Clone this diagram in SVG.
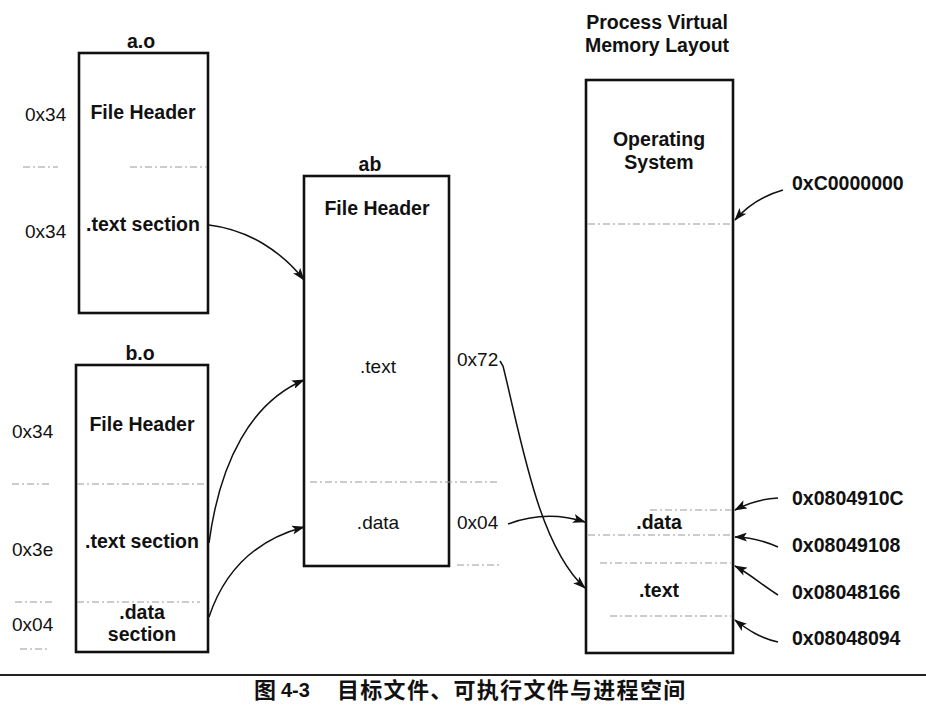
<svg xmlns="http://www.w3.org/2000/svg" width="926" height="719" viewBox="0 0 926 719">
<style>
.box{fill:#fff;stroke:#111;stroke-width:2.6}
.b{font-family:"Liberation Sans",Arial,sans-serif;font-weight:bold;font-size:19.5px;fill:#111}
.n{font-family:"Liberation Sans",Arial,sans-serif;font-size:19px;fill:#111}
.m{text-anchor:middle}
.d{stroke:#999;stroke-width:1;stroke-dasharray:7 3 2 3;fill:none}
.c{fill:none;stroke:#111;stroke-width:1.5}
.cap{font-family:"Noto Sans CJK SC","Noto Sans CJK JP",sans-serif;font-size:22px;font-weight:bold;fill:#111;letter-spacing:1.3px}
.capn{font-family:"Liberation Sans",Arial,sans-serif;font-size:20px;font-weight:bold;fill:#111}
</style>
<defs>
<marker id="ah" markerWidth="13" markerHeight="9" refX="12" refY="4.5" orient="auto" markerUnits="userSpaceOnUse">
<path d="M0,0 L13,4.5 L0,9 L3,4.5 z" fill="#111"/>
</marker>
</defs>

<g id="ao">
<text class="b m" x="141" y="48">a.o</text>
<rect class="box" x="79" y="53" width="129" height="260"/>
<text class="b m" x="143" y="119">File Header</text>
<text class="b m" x="143" y="231">.text section</text>
<text class="n" x="25" y="121">0x34</text>
<text class="n" x="25" y="238">0x34</text>
<line class="d" x1="23" y1="167" x2="58" y2="167"/>
<line class="d" x1="130" y1="167" x2="207" y2="167"/>
</g>

<g id="bo">
<text class="b m" x="140" y="360">b.o</text>
<rect class="box" x="76" y="365" width="132" height="287"/>
<text class="b m" x="142" y="431">File Header</text>
<text class="b m" x="142" y="548">.text section</text>
<text class="b m" x="142" y="619">.data</text>
<text class="b m" x="142" y="641">section</text>
<text class="n" x="12" y="438">0x34</text>
<text class="n" x="12" y="556">0x3e</text>
<text class="n" x="12" y="631">0x04</text>
<line class="d" x1="12" y1="484" x2="52" y2="484"/>
<line class="d" x1="77" y1="484" x2="207" y2="484"/>
<line class="d" x1="15" y1="602" x2="55" y2="602"/>
<line class="d" x1="77" y1="602" x2="200" y2="602"/>
<line class="d" x1="20" y1="649" x2="50" y2="649"/>
</g>

<g id="ab">
<text class="b m" x="370" y="171">ab</text>
<rect class="box" x="304" y="176" width="145" height="390"/>
<text class="b m" x="377" y="215">File Header</text>
<text class="n m" x="378" y="373">.text</text>
<text class="n m" x="378" y="529">.data</text>
<text class="n" x="457" y="366">0x72</text>
<text class="n" x="457" y="529">0x04</text>
<line class="d" x1="310" y1="482" x2="500" y2="482"/>
<line class="d" x1="457" y1="565" x2="500" y2="565" stroke-dasharray="2 3"/>
</g>

<g id="pvm">
<text class="b m" x="657" y="29">Process Virtual</text>
<text class="b m" x="657" y="52">Memory Layout</text>
<rect class="box" x="586" y="80" width="147" height="573"/>
<text class="b m" x="659" y="146">Operating</text>
<text class="b m" x="659" y="169">System</text>
<text class="b m" x="659" y="529">.data</text>
<text class="b m" x="659" y="597">.text</text>
<line class="d" x1="588" y1="224" x2="731" y2="224" stroke-dasharray="3 12"/>
<line class="d" x1="650" y1="510" x2="731" y2="510" stroke-dasharray="3 8"/>
<line class="d" x1="588" y1="535" x2="731" y2="535"/>
<line class="d" x1="600" y1="563" x2="731" y2="563" stroke-dasharray="3 3"/>
<line class="d" x1="610" y1="616" x2="731" y2="616"/>
</g>

<g id="addr">
<text class="b" x="792" y="190">0xC0000000</text>
<text class="b" x="792" y="505">0x0804910C</text>
<text class="b" x="792" y="552">0x08049108</text>
<text class="b" x="792" y="599">0x08048166</text>
<text class="b" x="792" y="645">0x08048094</text>
</g>

<g id="connectors">
<path class="c" marker-end="url(#ah)" d="M209,225 C250,230 283,253 304,280"/>
<path class="c" marker-end="url(#ah)" d="M209,543 C220,460 252,402 304,380"/>
<path class="c" marker-end="url(#ah)" d="M209,617 C224,572 255,540 304,527"/>
<path class="c" marker-end="url(#ah)" d="M500,361 L503,366 C521,438 538,545 585,588"/>
<path class="c" marker-end="url(#ah)" d="M508,524 C535,514 560,514 585,522"/>
<path class="c" marker-end="url(#ah)" d="M783,190 C765,195 748,205 735,220"/>
<path class="c" marker-end="url(#ah)" d="M778,498 C760,499 748,503 735,510"/>
<path class="c" marker-end="url(#ah)" d="M778,547 C762,540 750,537 735,537"/>
<path class="c" marker-end="url(#ah)" d="M778,595 C762,585 750,574 735,566"/>
<path class="c" marker-end="url(#ah)" d="M778,642 C760,638 748,630 735,620"/>
</g>

<g id="caption">
<line x1="0" y1="675" x2="926" y2="675" stroke="#222" stroke-width="2"/>
<text class="cap" x="254" y="698">图</text>
<text class="capn" x="281" y="697">4-3</text>
<text class="cap" x="337" y="698">目标文件、可执行文件与进程空间</text>
</g>
</svg>
